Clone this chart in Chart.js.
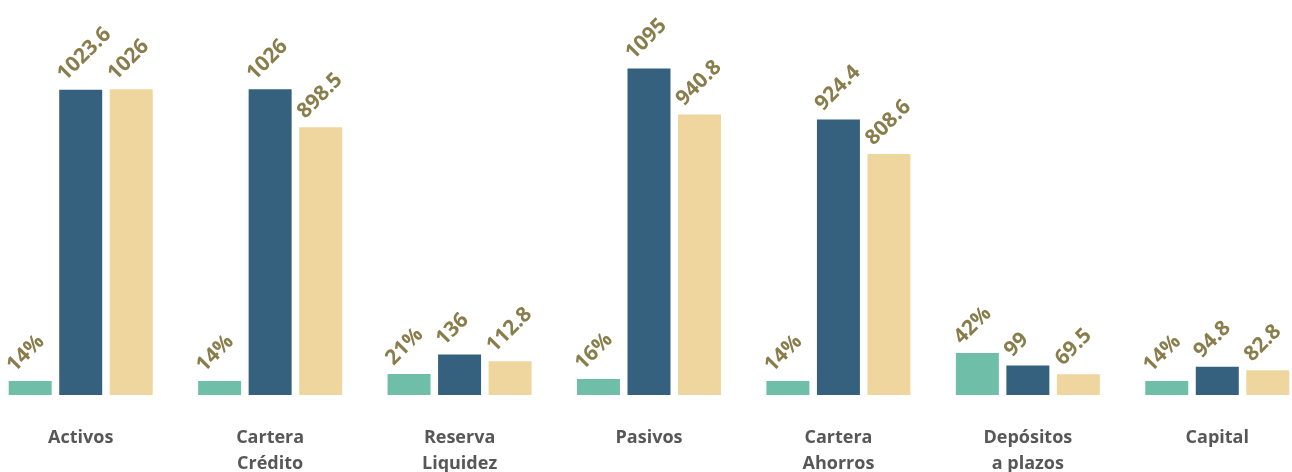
<!DOCTYPE html>
<html><head><meta charset="utf-8">
<script src="https://cdn.jsdelivr.net/npm/chart.js@4.4.1/dist/chart.umd.min.js"></script>
<style>
html,body{margin:0;padding:0;background:#fff;overflow:hidden;width:1292px;height:472px;}
#wrap{position:absolute;left:-14px;top:0;width:1326px;height:472px;}
</style></head><body>
<div id="wrap"><canvas id="c" width="1326" height="472"></canvas></div>
<script>
const categories = [["Activos"], ["Cartera", "Crédito"], ["Reserva", "Liquidez"], ["Pasivos"], ["Cartera", "Ahorros"], ["Depósitos", "a plazos"], ["Capital"]];
const growthPct = [14, 14, 21, 16, 14, 42, 14];
const seriesA = [1023.6, 1026, 136, 1095, 924.4, 99, 94.8];
const seriesB = [1026, 898.5, 112.8, 940.8, 808.6, 69.5, 82.8];

const labelPlugin = {
  id: 'vlabels',
  afterDatasetsDraw(chart) {
    const ctx = chart.ctx;
    ctx.save();
    ctx.fillStyle = '#897D4C';
    ctx.font = 'bold 21px "Open Sans"';
    ctx.textAlign = 'left';
    ctx.textBaseline = 'alphabetic';
    chart.data.datasets.forEach((ds, di) => {
      const meta = chart.getDatasetMeta(di);
      meta.data.forEach((bar, i) => {
        const txt = ds.suffix ? ds.data[i] + ds.suffix : String(ds.data[i]);
        const x = bar.x - bar.width / 2 + 6;
        const y = bar.y - 8;
        ctx.save();
        ctx.translate(x, y);
        ctx.rotate(-Math.PI / 4);
        ctx.fillText(txt, 0, 0);
        ctx.restore();
      });
    });
    ctx.restore();
  }
};

function draw() {
  new Chart(document.getElementById('c'), {
    type: 'bar',
    data: {
      labels: categories,
      datasets: [
        { label: 'Crecimiento', data: growthPct, suffix: '%', backgroundColor: '#6FBFA8', yAxisID: 'y2' },
        { label: 'Serie A', data: seriesA, backgroundColor: '#35617F', yAxisID: 'y' },
        { label: 'Serie B', data: seriesB, backgroundColor: '#EED69E', yAxisID: 'y' }
      ]
    },
    options: {
      responsive: false,
      animation: false,
      layout: { padding: 0 },
      datasets: { bar: { categoryPercentage: 0.8, barPercentage: 0.851 } },
      plugins: { legend: { display: false }, tooltip: { enabled: false } },
      scales: {
        x: {
          grid: { display: false, drawTicks: false },
          border: { display: false },
          ticks: { color: '#575757', font: { family: 'Open Sans', size: 18, weight: 'bold', lineHeight: 1.45 }, padding: 30, maxRotation: 0, autoSkip: false },
          afterFit: (s) => { s.height = 77; }
        },
        y: { display: false, min: 0, max: 1325 },
        y2: { display: false, min: 0, max: 395 }
      }
    },
    plugins: [labelPlugin]
  });
}
if (document.fonts && document.fonts.load) {
  Promise.all([document.fonts.load('bold 21px "Open Sans"'), document.fonts.load('bold 18px "Open Sans"')]).then(draw, draw);
} else { draw(); }
</script>
</body></html>
